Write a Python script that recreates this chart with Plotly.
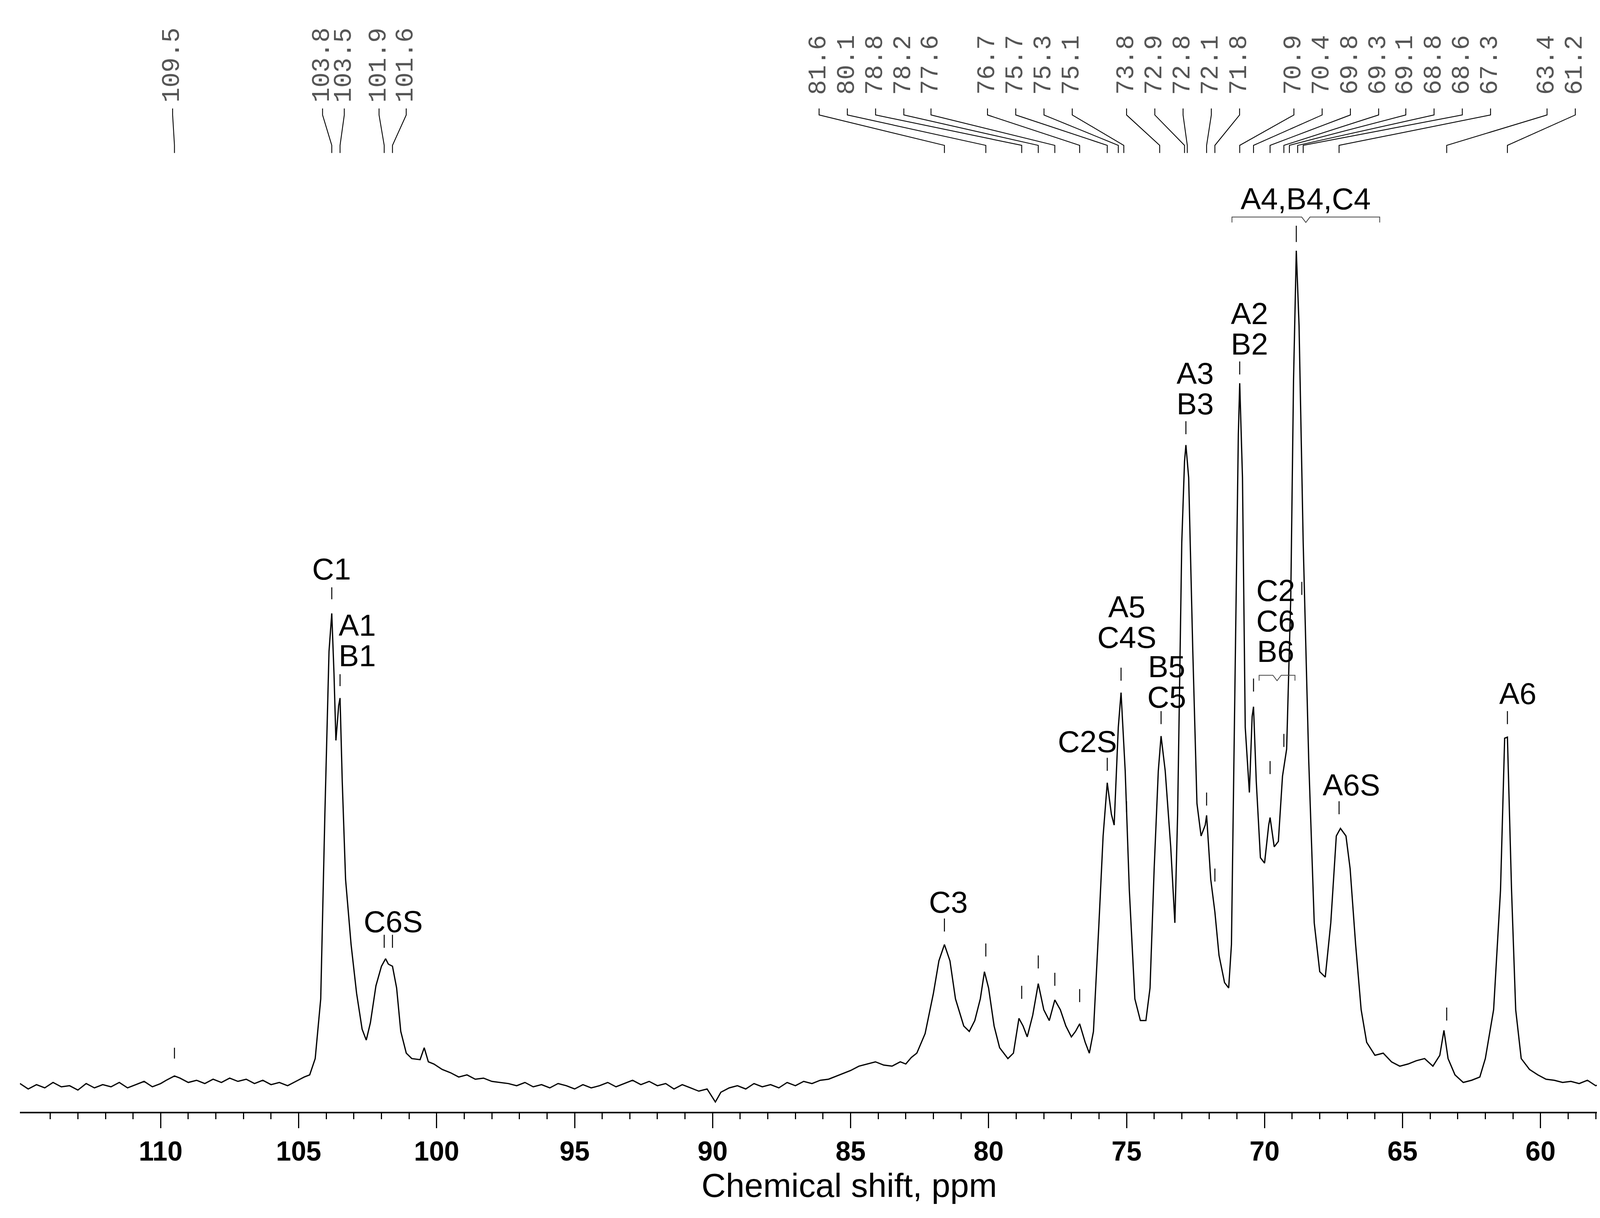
import plotly.graph_objects as go

# traced spectrum: chemical shift (ppm) and intensity (arbitrary, baseline = 0)
ppm = [115.1, 114.8, 114.5, 114.2, 113.9, 113.6, 113.3, 113.0, 112.7, 112.4, 112.1, 111.8, 111.5,
       111.2, 110.9, 110.6, 110.3, 110.0, 109.8, 109.5, 109.3, 109.0, 108.7, 108.4, 108.1, 107.8, 107.5,
       107.2, 106.9, 106.6, 106.3, 106.0, 105.7, 105.4, 105.1, 104.8, 104.6, 104.4, 104.2, 104.05, 103.9,
       103.8, 103.72, 103.65, 103.55, 103.5, 103.42, 103.3, 103.1, 102.9, 102.7, 102.55, 102.4, 102.2,
       102.0, 101.85, 101.75, 101.6, 101.45, 101.3, 101.1, 100.9, 100.6, 100.45, 100.3, 100.1, 99.8, 99.5,
       99.2, 98.9, 98.6, 98.3, 98.0, 97.7, 97.4, 97.1, 96.8, 96.5, 96.2, 95.9, 95.6, 95.3, 95.0, 94.7,
       94.4, 94.1, 93.8, 93.5, 93.2, 92.9, 92.6, 92.3, 92.0, 91.7, 91.4, 91.1, 90.8, 90.5, 90.2, 89.9,
       89.7, 89.4, 89.1, 88.8, 88.5, 88.2, 87.9, 87.6, 87.3, 87.0, 86.7, 86.4, 86.1, 85.8, 85.5, 85.2,
       85.0, 84.7, 84.4, 84.1, 83.8, 83.5, 83.2, 83.0, 82.8, 82.6, 82.3, 82.0, 81.8, 81.6, 81.4, 81.2,
       80.9, 80.7, 80.5, 80.3, 80.15, 80.0, 79.8, 79.6, 79.3, 79.1, 78.9, 78.75, 78.6, 78.4, 78.2, 78.0,
       77.8, 77.6, 77.4, 77.2, 77.0, 76.85, 76.7, 76.5, 76.35, 76.2, 76.0, 75.85, 75.7, 75.55, 75.45,
       75.3, 75.2, 75.05, 74.9, 74.7, 74.5, 74.3, 74.15, 74.0, 73.85, 73.75, 73.6, 73.4, 73.25, 73.15,
       73.0, 72.9, 72.85, 72.75, 72.6, 72.45, 72.3, 72.15, 72.1, 71.95, 71.8, 71.65, 71.45, 71.3, 71.2,
       71.05, 70.95, 70.9, 70.8, 70.7, 70.55, 70.45, 70.4, 70.3, 70.15, 70.0, 69.85, 69.8, 69.65, 69.5,
       69.35, 69.2, 69.05, 68.95, 68.85, 68.75, 68.6, 68.4, 68.2, 68.0, 67.8, 67.6, 67.4, 67.25, 67.05,
       66.9, 66.7, 66.5, 66.3, 66.0, 65.7, 65.4, 65.1, 64.8, 64.5, 64.2, 63.9, 63.65, 63.5, 63.35, 63.1,
       62.8, 62.5, 62.2, 62.0, 61.7, 61.45, 61.3, 61.2, 61.05, 60.9, 60.7, 60.4, 60.1, 59.8, 59.5, 59.2,
       58.9, 58.6, 58.3, 58.0, 57.7, 57.4, 57.1, 56.8, 56.5, 56.2, 55.9, 55.6, 55.3, 55.0]
intensity = [2, -3, 1, -2, 3, -1, 0, -4, 2, -2, 1, -1, 3,
             -2, 1, 4, -1, 2, 5, 9, 7, 3, 5, 2, 6, 3, 7,
             4, 6, 2, 5, 1, 3, 0, 4, 8, 10, 25, 80, 250, 400,
             435, 380, 318, 350, 357, 280, 190, 130, 85, 52, 42, 58, 92,
             110, 117, 112, 110, 90, 50, 30, 25, 24, 35, 22, 20, 15, 12,
             8, 10, 6, 7, 4, 3, 2, 0, 3, -1, 1, -2, 2, 0, -3, 1,
             -2, 0, 3, -1, 2, 5, 1, 4, 0, 2, -3, 1, -2, -5, -3, -15,
             -6, -2, 0, -3, 2, -1, 1, -2, 3, 0, 4, 2, 5, 6, 9, 12,
             14, 18, 20, 22, 19, 18, 22, 20, 26, 30, 48, 85, 115, 130, 115, 80,
             55, 50, 60, 80, 105, 90, 55, 35, 25, 30, 62, 55, 45, 65, 94, 70,
             60, 79, 70, 55, 45, 50, 57, 40, 30, 50, 150, 230, 279, 250, 240,
             330, 362, 290, 180, 80, 60, 60, 90, 200, 290, 322, 290, 220, 150, 250,
             500, 575, 590, 560, 400, 260, 230, 240, 249, 190, 160, 120, 95, 90, 130,
             400, 600, 647, 560, 330, 270, 340, 349, 280, 210, 205, 240, 247, 220, 225,
             285, 310, 450, 650, 769, 700, 500, 300, 150, 105, 100, 150, 230, 237, 230,
             200, 130, 70, 40, 28, 30, 22, 18, 20, 23, 25, 18, 28, 51, 25, 10,
             3, 5, 8, 25, 70, 180, 320, 321, 180, 70, 25, 15, 10, 6, 5, 3,
             4, 2, 5, 0, 3, 1, 4, 0, 2, 5, 1, 3, 0, 2]

# peak-list labels along the top, with the x where each label is written (px in 1560-wide frame)
peak_list = ["109.5", "103.8", "103.5", "101.9", "101.6", "81.6", "80.1", "78.8", "78.2", "77.6",
             "76.7", "75.7", "75.3", "75.1", "73.8", "72.9", "72.8", "72.1", "71.8", "70.9", "70.4",
             "69.8", "69.3", "69.1", "68.8", "68.6", "67.3", "63.4", "61.2"]
label_px = [155, 293, 313, 345, 370, 750, 776, 802, 828, 853, 905, 931, 957, 983, 1033, 1059, 1085,
            1111, 1137, 1187, 1213, 1239, 1265, 1290, 1316, 1342, 1368, 1420, 1446]

# assignments
assign_ppm = [103.8, 103.5, 101.9, 81.6, 75.7, 75.2, 73.75, 72.85, 70.9, 70.4, 68.85, 67.3, 61.2]
assign_txt = ["C1", "A1<br>B1", "C6S", "C3", "C2S", "A5<br>C4S", "B5<br>C5", "A3<br>B3", "A2<br>B2",
              "C2<br>C6<br>B6", "A4,B4,C4", "A6S", "A6"]
extra_ticks = [109.5, 101.6, 80.1, 78.8, 78.2, 77.6, 76.7, 75.0, 72.1, 71.8, 69.8, 69.3, 68.65, 63.4]

S = 4336 / 1560.0


def px2ppm(x):
    return 110 - (x - 144) / 25.4


def h(y):
    return 997 - y


fig = go.Figure()
fig.add_trace(go.Scatter(x=ppm, y=intensity, mode="lines", line=dict(color="black", width=3.2),
                         hoverinfo="skip", showlegend=False))

# connectors for the top peak list
for lab, lx in zip(peak_list, label_px):
    p = float(lab)
    lp = px2ppm(lx)
    fig.add_trace(go.Scatter(x=[lp, lp, p, p], y=[h(97), h(103), h(131), h(138)], mode="lines",
                             line=dict(color="black", width=2.2), hoverinfo="skip", showlegend=False))
    fig.add_annotation(x=lp, y=h(57), text=lab, textangle=-90, showarrow=False,
                       font=dict(family="Liberation Mono", size=23 * S, color="#555"))

# assignment labels (text centre x px, first-line centre y px)
txt_pos = [(301, 521), (325, 573), (358, 846), (869, 828), (997, 680), (1033, 556), (1070, 611),
           (1096, 341), (1146, 286), (1170, 541), (1198, 180), (1240, 720), (1393, 636)]
tick_y = [(538, 549), (618, 629), (858, 870), (843, 855), (695, 707), (612, 624), (652, 664),
          (385, 397), (330, 342), (622, 634), (205, 220), (735, 747), (652, 664)]
for p, t, (tx, ty), (y1, y2) in zip(assign_ppm, assign_txt, txt_pos, tick_y):
    for i, line in enumerate(t.split("<br>")):
        fig.add_annotation(x=px2ppm(tx), y=h(ty + 28 * i), text=line, showarrow=False,
                           font=dict(family="Liberation Sans", size=28 * S, color="black"))
    fig.add_shape(type="line", x0=p, x1=p, y0=h(y1), y1=h(y2), line=dict(color="black", width=2.5))

extra_y = [(962, 972), (858, 870), (866, 878), (905, 917), (877, 889), (893, 905), (908, 920),
           (735, 745), (727, 739), (797, 809), (698, 710), (673, 685), (533, 545), (925, 937)]
for p, (y1, y2) in zip(extra_ticks, extra_y):
    fig.add_shape(type="line", x0=p, x1=p, y0=h(y1), y1=h(y2), line=dict(color="black", width=2.5))


# braces
def brace(x1, x2, y):
    a, b, c = px2ppm(x1), px2ppm(x2), px2ppm((x1 + x2) / 2)
    return (f"M {a},{h(y + 5)} L {a},{h(y)} L {c + 0.15},{h(y)} L {c},{h(y + 5)} "
            f"L {c - 0.15},{h(y)} L {b},{h(y)} L {b},{h(y + 5)}")


for x1, x2, y in [(1130, 1266, 197), (1155, 1188, 619)]:
    fig.add_shape(type="path", path=brace(x1, x2, y), line=dict(color="#444", width=2))

fig.update_layout(
    width=4336, height=3119, plot_bgcolor="white", paper_bgcolor="white",
    margin=dict(l=int(15.5 * S), r=int(17 * S), t=0, b=int(101 * S)),
    font=dict(family="Liberation Sans", color="black"),
    xaxis=dict(range=[115.1, 55.0], tickvals=list(range(60, 115, 5)), showgrid=False, zeroline=False,
               showline=True, linecolor="black", linewidth=4, ticks="outside",
               ticklen=int(14 * S), tickwidth=3, tickcolor="black",
               tickfont=dict(size=25 * S, family="Liberation Sans", color="black", weight="bold"),
               minor=dict(tickvals=[v for v in range(56, 116) if v % 5], ticks="outside",
                          ticklen=int(5.5 * S), tickwidth=2.5, tickcolor="black"),
               title=dict(text="Chemical shift, ppm", font=dict(size=31 * S), standoff=0)),
    yaxis=dict(range=[-24, 997], visible=False),
)

fig.write_html("out.html")
